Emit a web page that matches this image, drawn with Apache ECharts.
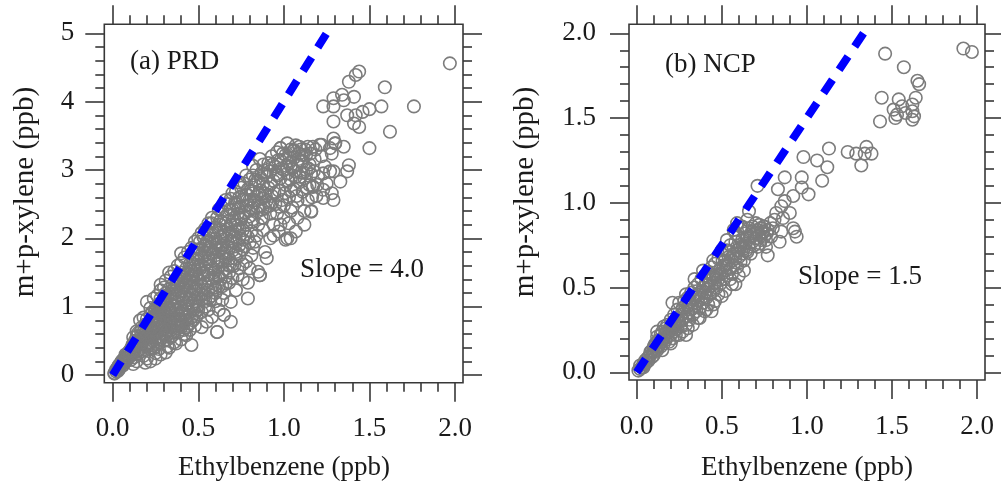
<!DOCTYPE html>
<html>
<head>
<meta charset="utf-8">
<script src="https://cdn.jsdelivr.net/npm/echarts@6/dist/echarts.min.js"></script>
<style>
html,body{margin:0;padding:0;background:#fff;}
#chart{width:1001px;height:488px;}
</style>
</head>
<body>
<div id="chart"></div>
<script>
// ---------- DATA ----------
const xTickLabels = ['0.0', '0.5', '1.0', '1.5', '2.0'];
const prdYTickLabels = ['0', '1', '2', '3', '4', '5'];
const ncpYTickLabels = ['0.0', '0.5', '1.0', '1.5', '2.0'];

const panelTitles = ['(a) PRD', '(b) NCP'];
const slopeTexts = ['Slope = 4.0', 'Slope = 1.5'];
const xAxisTitle = 'Ethylbenzene (ppb)';
const yAxisTitle = 'm+p-xylene (ppb)';

// dashed reference lines (start, end)
const prdSlopeLine = [[0, 0], [1.25, 5.0]];
const ncpSlopeLine = [[0, 0], [1.333, 2.0]];

// PRD scatter (ethylbenzene, m+p-xylene), ppb
const prdPoints = [
[0.01,0.03],[0.02,0.05],[0.02,0.08],[0.03,0.06],[0.03,0.11],[0.01,0.02],[0.04,0.12],[0.04,0.09],[0.05,0.15],[0.05,0.19],
[0.06,0.14],[0.06,0.22],[0.07,0.25],[0.07,0.18],[0.08,0.21],[0.08,0.29],[0.09,0.31],[0.09,0.24],[0.10,0.27],[0.10,0.36],
[0.11,0.40],[0.11,0.30],[0.12,0.33],[0.12,0.45],[0.13,0.38],[0.13,0.50],[0.14,0.42],[0.14,0.56],[0.15,0.36],[0.15,0.48],
[0.15,0.62],[0.16,0.52],[0.16,0.41],[0.17,0.58],[0.17,0.70],[0.17,0.45],[0.18,0.63],[0.18,0.50],[0.19,0.74],[0.19,0.55],
[0.19,0.44],[0.20,0.68],[0.20,0.82],[0.20,0.58],[0.21,0.62],[0.21,0.76],[0.21,0.48],[0.22,0.88],[0.22,0.70],[0.22,0.55],
[0.23,0.80],[0.23,0.64],[0.23,0.92],[0.24,0.74],[0.24,0.58],[0.24,0.86],[0.25,0.98],[0.25,0.68],[0.25,0.80],[0.26,0.90],
[0.26,0.62],[0.26,0.75],[0.27,1.04],[0.27,0.84],[0.27,0.70],[0.28,0.95],[0.28,0.78],[0.28,1.12],[0.29,0.66],[0.29,0.88],
[0.29,1.00],[0.30,1.08],[0.30,0.82],[0.30,0.95],[0.30,0.60],[0.31,1.20],[0.31,0.92],[0.31,0.74],[0.32,1.02],[0.32,0.86],
[0.32,1.14],[0.33,0.98],[0.33,1.26],[0.33,0.78],[0.34,1.08],[0.34,0.92],[0.34,0.66],[0.35,1.18],[0.35,1.32],[0.35,0.84],
[0.36,1.02],[0.36,1.12],[0.36,0.72],[0.37,1.24],[0.37,0.94],[0.37,1.40],[0.38,1.08],[0.38,1.30],[0.38,0.82],[0.39,1.16],
[0.39,1.00],[0.39,1.46],[0.40,1.22],[0.40,1.36],[0.40,0.90],[0.40,0.70],[0.41,1.10],[0.41,1.50],[0.41,1.28],[0.42,1.18],
[0.42,0.98],[0.42,1.42],[0.43,1.32],[0.43,1.56],[0.43,0.80],[0.44,1.24],[0.44,1.06],[0.44,1.48],[0.45,1.38],[0.45,1.62],
[0.45,0.92],[0.46,1.30],[0.46,1.16],[0.46,1.52],[0.46,0.44],[0.47,1.44],[0.47,1.70],[0.47,1.02],[0.48,1.36],[0.48,1.58],
[0.48,1.22],[0.49,1.76],[0.49,1.48],[0.49,0.86],[0.50,1.66],[0.50,1.40],[0.50,1.84],[0.50,1.12],
[0.16,0.80],[0.20,1.07],[0.24,1.12],[0.28,1.32],[0.31,1.38],[0.36,1.52],[0.40,1.64],[0.44,1.80],[0.48,1.95],[0.52,2.08],[0.56,2.22],
[0.18,0.28],[0.22,0.38],[0.26,0.45],[0.30,0.50],[0.34,0.55],[0.38,0.62],[0.25,0.32],[0.20,0.24],[0.14,0.20],[0.12,0.16],
[0.32,0.42],[0.42,0.60],[0.36,0.48],
[0.19,0.18],[0.22,0.20],[0.25,0.24],[0.28,0.30],[0.31,0.33],[0.27,0.38],[0.33,0.40],[0.37,0.46],[0.40,0.52],[0.43,0.58],
[0.45,0.66],[0.48,0.72],[0.52,0.70],[0.55,0.78],[0.58,0.85],[0.62,0.95],[0.61,0.63],[0.65,0.88],[0.69,0.78],[0.69,1.07],
[0.035,0.14],[0.045,0.17],[0.055,0.21],[0.065,0.18],[0.075,0.30],[0.085,0.25],[0.095,0.34],[0.105,0.31],[0.115,0.44],[0.125,0.38],
[0.135,0.46],[0.145,0.50],[0.155,0.44],[0.165,0.64],[0.175,0.54],[0.185,0.70],[0.195,0.62],[0.205,0.75],[0.215,0.66],[0.225,0.82],
[0.235,0.70],[0.245,0.92],[0.255,0.86],[0.265,0.96],[0.275,0.90],[0.285,1.04],[0.295,0.94],[0.305,1.14],[0.315,1.06],[0.325,0.96],
[0.335,1.18],[0.345,1.12],[0.355,1.26],[0.365,1.20],[0.375,1.34],[0.385,1.22],[0.395,1.40],[0.405,1.30],[0.415,1.44],[0.425,1.36],
[0.435,1.50],[0.445,1.42],[0.455,1.56],[0.465,1.46],[0.475,1.62],[0.485,1.52],[0.495,1.70],
[0.105,0.22],[0.125,0.26],[0.145,0.30],[0.165,0.34],[0.185,0.38],[0.205,0.42],[0.225,0.47],[0.245,0.52],[0.265,0.56],[0.285,0.60],
[0.305,0.68],[0.325,0.70],[0.345,0.76],[0.365,0.80],[0.385,0.88],[0.405,0.94],[0.425,1.02],[0.445,1.10],[0.465,1.18],[0.485,1.26],
[0.235,0.44],[0.275,0.52],[0.315,0.58],[0.355,0.62],[0.395,0.74],[0.435,0.86],[0.475,0.96],[0.415,0.66],[0.455,0.76],[0.495,1.00],
[0.12,0.55],[0.14,0.64],[0.18,0.84],[0.22,0.98],[0.26,1.16],[0.30,1.28],[0.34,1.44],[0.38,1.60],[0.42,1.72],[0.46,1.86],
[0.50,2.00],[0.54,2.14],[0.58,2.30],[0.62,2.42],[0.66,2.56],[0.70,2.66],[0.74,2.82],[0.78,2.92],[0.82,3.06],[0.86,3.16],
[0.40,1.78],[0.33,1.50],[0.28,1.24],
[0.30,0.72],[0.32,0.64],[0.34,0.80],[0.36,0.88],[0.38,0.72],[0.40,0.80],[0.42,0.88],[0.44,0.72],[0.44,0.96],[0.46,0.84],
[0.46,1.02],[0.48,0.90],[0.48,1.08],[0.50,1.02],[0.50,1.24],[0.52,0.92],[0.52,1.18],[0.54,1.08],[0.54,1.34],[0.56,1.12],
[0.56,1.46],[0.58,1.16],[0.58,1.40],[0.60,1.20],[0.60,1.54],[0.62,1.44],[0.62,1.68],[0.64,1.30],[0.64,1.78],[0.66,1.44],
[0.66,1.70],[0.68,1.50],[0.68,1.86],[0.70,1.62],[0.70,1.96],[0.72,1.80],[0.72,2.20],[0.74,1.90],[0.74,2.14],[0.76,1.98],
[0.24,0.40],[0.27,0.47],[0.29,0.54],[0.32,0.52],[0.35,0.58],[0.38,0.68],[0.41,0.76],[0.43,0.70],[0.47,0.80],[0.49,0.94],
[0.51,1.55],[0.51,1.95],[0.52,1.30],[0.52,1.72],[0.53,1.88],[0.53,1.48],[0.53,2.02],[0.54,1.62],[0.54,1.20],[0.54,1.80],
[0.55,1.95],[0.55,1.52],[0.55,2.12],[0.56,1.70],[0.56,1.38],[0.56,1.86],[0.57,2.05],[0.57,1.60],[0.57,1.10],[0.58,1.78],
[0.58,1.94],[0.58,2.22],[0.59,1.50],[0.59,1.68],[0.59,2.08],[0.60,1.86],[0.60,2.00],[0.60,1.28],[0.61,2.30],[0.61,1.72],
[0.61,1.95],[0.62,1.58],[0.62,2.12],[0.62,1.82],[0.63,2.02],[0.63,1.40],[0.63,2.26],[0.64,1.90],[0.64,1.66],[0.64,2.40],
[0.65,2.10],[0.65,1.78],[0.65,1.20],[0.66,2.00],[0.66,2.22],[0.66,1.55],[0.67,1.88],[0.67,2.35],[0.67,2.50],[0.68,2.08],
[0.68,1.70],[0.68,1.35],[0.69,2.20],[0.69,1.95],[0.69,2.58],[0.70,2.42],[0.70,1.82],[0.70,2.10],[0.71,1.60],[0.71,2.30],
[0.71,2.02],[0.72,2.50],[0.72,1.92],[0.72,2.68],[0.73,2.18],[0.73,1.46],[0.73,2.36],[0.74,2.60],[0.74,2.00],[0.74,1.75],
[0.75,2.28],[0.75,2.74],[0.75,2.46],[0.76,2.12],[0.76,1.62],[0.76,2.56],[0.77,2.38],[0.77,2.80],[0.77,1.88],[0.78,2.64],
[0.78,2.20],[0.78,2.48],[0.79,2.02],[0.79,2.72],[0.79,1.35],[0.80,2.32],[0.80,2.56],[0.80,2.86],[0.81,2.10],[0.81,2.44],
[0.81,1.75],[0.82,2.66],[0.82,2.92],[0.82,2.28],[0.83,2.52],[0.83,1.95],[0.83,2.78],[0.84,2.38],[0.84,3.00],[0.84,2.62],
[0.85,2.20],[0.85,1.51],[0.85,2.84],[0.86,2.48],[0.86,2.70],[0.86,1.46],[0.87,2.96],[0.87,2.30],[0.87,2.58],[0.88,2.80],
[0.88,3.08],[0.88,2.12],[0.89,2.44],[0.89,2.66],[0.89,1.80],[0.90,2.90],[0.90,1.71],[0.90,2.55],[0.79,1.12],
[0.505,1.78],[0.515,1.62],[0.525,1.42],[0.535,1.74],[0.545,1.90],[0.555,1.66],[0.565,1.96],[0.575,1.84],[0.585,1.56],[0.595,2.16],
[0.605,1.92],[0.615,1.64],[0.625,2.20],[0.635,1.86],[0.645,2.04],[0.655,2.30],[0.665,1.80],[0.675,2.14],[0.685,2.42],[0.695,2.04],
[0.705,2.26],[0.715,2.52],[0.725,2.10],[0.735,2.44],[0.745,2.30],[0.755,2.62],[0.765,2.34],[0.775,2.06],[0.785,2.56],[0.795,2.40],
[0.805,2.70],[0.815,2.24],[0.825,2.56],[0.835,2.86],[0.845,2.46],[0.855,2.66],[0.865,2.88],[0.875,2.42],[0.885,2.94],[0.895,2.62],
[0.52,1.10],[0.56,1.24],[0.60,1.42],[0.64,1.50],[0.68,1.60],[0.72,1.70],[0.76,1.84],[0.80,1.94],[0.84,2.04],[0.88,2.30],
[0.66,1.34],[0.70,1.42],[0.74,1.56],[0.78,1.66],[0.82,1.86],[0.62,1.30],[0.58,1.30],[0.54,1.00],[0.50,0.96],[0.56,0.96],
[0.60,1.08],[0.64,1.10],[0.72,1.24],[0.76,1.40],[0.80,1.56],
[0.91,2.74],[0.91,3.10],[0.92,2.36],[0.92,2.98],[0.93,2.62],[0.93,3.20],[0.94,2.84],[0.94,2.20],[0.95,3.05],[0.95,2.50],
[0.96,2.92],[0.96,3.26],[0.97,2.70],[0.97,2.10],[0.98,3.14],[0.98,2.88],[0.98,3.32],[0.99,2.56],[1.00,3.00],[1.00,2.30],
[1.01,3.22],[1.01,2.78],[1.02,2.95],[1.02,2.00],[1.03,3.10],[1.03,2.60],[1.04,3.30],[1.04,2.86],[1.05,2.45],[1.05,3.02],
[1.06,3.18],[1.06,2.72],[1.07,2.90],[1.07,3.36],[1.08,3.08],[1.08,2.55],[1.09,3.24],[1.09,2.82],[1.10,2.96],[1.10,3.30],
[1.11,2.68],[1.11,3.12],[1.12,2.40],[1.12,2.88],[1.13,3.22],[1.13,3.00],[1.14,2.56],[1.14,3.34],[1.15,2.78],[1.15,3.08],
[1.16,2.39],[1.16,2.94],[1.17,3.34],[1.17,2.76],[1.18,3.16],[1.19,2.62],[1.20,2.90],[1.21,3.37],[1.22,3.20],[1.23,2.95],
[1.23,2.71],[1.24,3.05],[1.25,2.80],[1.27,2.98],[1.28,3.24],[1.29,2.98],[1.29,2.56],[1.30,3.39],[1.28,2.66],[1.33,2.83],
[1.35,3.34],[1.37,2.98],[1.38,3.07],[1.04,2.00],[1.01,1.98],[0.92,2.00],
[0.905,3.00],[0.915,2.52],[0.925,2.80],[0.935,3.08],[0.945,2.66],[0.955,2.94],[0.965,3.14],[0.975,2.46],[0.985,3.02],[0.995,3.24],
[1.005,2.66],[1.015,3.06],[1.025,2.84],[1.035,3.18],[1.045,2.70],[1.055,3.28],[1.065,2.98],[1.075,2.62],[1.085,3.16],[1.095,2.90],
[1.105,3.22],[1.115,2.96],[1.125,3.30],[1.135,2.74],[1.145,3.02],[1.155,3.24],[1.165,2.60],[1.175,2.98],[1.185,3.30],[1.195,2.78],
[0.92,2.48],[0.96,2.36],[1.00,2.48],[1.04,2.40],[1.08,2.30],[1.12,2.20],[0.98,2.20],[0.94,2.04],[1.03,2.22],[1.07,2.10],
[1.97,4.56],[1.76,3.93],[1.62,3.56],[1.59,4.21],[1.57,3.93],[1.50,3.32],[1.50,3.89],[1.46,3.85],[1.44,4.44],[1.42,4.39],
[1.38,4.29],[1.42,3.80],[1.44,3.63],[1.41,3.68],[1.41,4.07],[1.37,3.80],[1.35,4.02],[1.34,4.10],[1.29,4.05],[1.23,3.93],
[1.29,3.93],[1.29,3.71],[1.29,3.46],[1.30,3.39],[1.27,3.32],[1.22,3.37],[1.17,2.75],[1.23,2.59],[1.16,2.40],
[1.06,3.29],[1.09,3.34],[1.02,3.39],[0.98,3.32],[1.04,3.05],[1.10,3.12],[0.65,0.88],[0.61,0.63],[0.86,1.46]
];

// NCP scatter (ethylbenzene, m+p-xylene), ppb
const ncpPoints = [
[0.01,0.01],[0.02,0.02],[0.02,0.04],[0.03,0.03],[0.04,0.05],[0.04,0.03],[0.05,0.07],[0.05,0.05],[0.06,0.08],[0.06,0.06],
[0.07,0.09],[0.07,0.07],[0.08,0.10],[0.08,0.12],[0.09,0.09],[0.09,0.13],[0.10,0.12],[0.10,0.15],[0.10,0.10],[0.11,0.14],
[0.11,0.17],[0.12,0.13],[0.12,0.18],[0.12,0.21],[0.13,0.16],[0.13,0.19],[0.14,0.15],[0.14,0.22],[0.15,0.18],[0.15,0.24],
[0.15,0.13],[0.16,0.20],[0.16,0.17],[0.17,0.23],[0.17,0.26],[0.17,0.19],[0.18,0.21],[0.18,0.28],[0.19,0.24],[0.19,0.18],
[0.20,0.27],[0.20,0.22],[0.20,0.31],[0.21,0.25],[0.21,0.20],[0.22,0.30],[0.22,0.34],[0.22,0.24],[0.23,0.28],[0.23,0.22],
[0.24,0.32],[0.24,0.26],[0.24,0.37],[0.25,0.30],[0.25,0.41],[0.26,0.34],[0.26,0.27],[0.27,0.38],[0.27,0.31],[0.27,0.24],
[0.28,0.36],[0.28,0.42],[0.29,0.33],[0.29,0.28],[0.30,0.39],[0.30,0.44],[0.30,0.35],[0.31,0.31],[0.31,0.41],[0.32,0.37],
[0.32,0.47],[0.33,0.43],[0.33,0.34],[0.34,0.39],[0.34,0.50],[0.35,0.45],[0.35,0.36],[0.36,0.42],[0.36,0.52],[0.37,0.47],
[0.37,0.38],[0.38,0.44],[0.38,0.55],[0.39,0.50],[0.39,0.41],[0.40,0.47],[0.40,0.57],[0.40,0.36],[0.41,0.52],[0.41,0.44],
[0.42,0.49],[0.42,0.59],[0.43,0.54],[0.43,0.46],[0.44,0.51],[0.44,0.62],[0.45,0.57],[0.45,0.48],[0.45,0.40],[0.46,0.53],
[0.46,0.64],[0.47,0.58],[0.47,0.50],[0.48,0.55],[0.48,0.67],[0.49,0.61],[0.49,0.52],[0.50,0.58],[0.50,0.70],[0.50,0.45],
[0.51,0.63],[0.51,0.55],[0.52,0.66],[0.52,0.60],[0.53,0.72],[0.53,0.57],[0.54,0.64],[0.54,0.68],[0.55,0.61],[0.55,0.75],
[0.56,0.66],[0.56,0.58],[0.57,0.70],[0.57,0.63],[0.58,0.77],[0.58,0.67],[0.59,0.62],[0.59,0.72],[0.60,0.68],[0.60,0.80],
[0.61,0.74],[0.61,0.65],[0.62,0.70],[0.62,0.78],[0.63,0.73],[0.63,0.66],[0.64,0.76],[0.64,0.82],[0.65,0.71],[0.65,0.79],
[0.66,0.74],[0.66,0.85],[0.67,0.80],[0.67,0.70],[0.68,0.77],[0.68,0.86],[0.69,0.82],[0.69,0.75],[0.70,0.79],[0.70,0.88],
[0.71,0.84],[0.71,0.74],[0.72,0.81],[0.72,0.87],[0.73,0.78],[0.73,0.85],[0.74,0.83],[0.75,0.80],[0.75,0.86],[0.76,0.78],
[0.77,0.84],
[0.12,0.24],[0.16,0.27],[0.21,0.41],[0.29,0.46],[0.34,0.55],[0.39,0.60],[0.45,0.66],[0.50,0.72],[0.53,0.78],
[0.29,0.22],[0.33,0.28],[0.37,0.32],[0.41,0.37],[0.46,0.42],[0.52,0.48],[0.56,0.52],[0.60,0.57],[0.63,0.60],[0.58,0.52],[0.44,0.36],
[0.105,0.16],[0.125,0.15],[0.145,0.19],[0.165,0.22],[0.185,0.25],[0.205,0.26],[0.225,0.27],[0.245,0.29],[0.265,0.31],[0.285,0.39],
[0.305,0.41],[0.325,0.40],[0.345,0.44],[0.365,0.46],[0.385,0.48],[0.405,0.52],[0.425,0.52],[0.445,0.56],[0.465,0.56],[0.485,0.58],
[0.505,0.66],[0.525,0.63],[0.545,0.71],[0.565,0.68],[0.585,0.70],[0.605,0.75],[0.625,0.74],[0.645,0.72],[0.665,0.80],[0.685,0.83],
[0.705,0.82],[0.725,0.76],[0.745,0.86],[0.765,0.82],[0.785,0.88],[0.80,0.85],[0.79,0.80],[0.62,0.86],[0.58,0.82],[0.55,0.55],
[0.48,0.46],[0.42,0.40],[0.36,0.32],[0.30,0.26],[0.25,0.22],[0.20,0.17],[0.57,0.84],[0.61,0.86],[0.65,0.90],
[1.92,1.91],[1.97,1.89],[1.46,1.88],[1.57,1.80],[1.65,1.72],[1.66,1.70],[1.44,1.62],[1.54,1.61],[1.64,1.62],[1.62,1.58],
[1.51,1.55],[1.56,1.57],[1.53,1.52],[1.58,1.53],[1.62,1.54],[1.63,1.51],[1.62,1.49],[1.52,1.50],[1.43,1.48],
[1.35,1.33],[1.38,1.29],[1.34,1.29],[1.29,1.29],[1.24,1.30],[1.32,1.22],[1.13,1.32],[1.06,1.25],[1.12,1.21],[1.09,1.13],
[0.98,1.27],[0.97,1.15],[1.01,1.05],[0.97,1.09],[0.92,1.04],[0.87,1.15],[0.83,1.08],[0.87,1.01],[0.85,0.98],[0.82,0.94],
[0.81,0.90],[0.90,0.94],[0.86,0.91],[0.92,0.85],[0.94,0.80],[0.93,0.83],[0.85,0.83],[0.84,0.77],[0.77,0.69],[0.76,0.74],
[0.74,0.82],[0.66,0.95],[0.71,1.10],[0.59,0.88]
];

// ---------- CHART ----------
const FONT = 'Liberation Serif';
const INK = '#1a1a1a';
const AX = '#383838';

function tickAxisX(gridIndex, position, offset, labels) {
  return {
    type: 'value', gridIndex: gridIndex, position: position, offset: offset,
    min: 0, max: 2, interval: 0.5,
    axisLine: { show: false, onZero: false },
    axisTick: { show: true, length: 19, lineStyle: { color: AX, width: 1.6 } },
    minorTick: { show: true, splitNumber: 5, length: 9, lineStyle: { color: AX, width: 1.6 } },
    splitLine: { show: false }, minorSplitLine: { show: false },
    axisLabel: labels ? {
      show: true, margin: 33, fontFamily: FONT, fontSize: 27, color: INK,
      formatter: function (v) { return labels[Math.round(v / 0.5)]; }
    } : { show: false }
  };
}
function tickAxisY(gridIndex, position, offset, max, interval, labels, margin) {
  return {
    type: 'value', gridIndex: gridIndex, position: position, offset: offset,
    min: 0, max: max, interval: interval,
    axisLine: { show: false, onZero: false },
    axisTick: { show: true, length: 19, lineStyle: { color: AX, width: 1.6 } },
    minorTick: { show: true, splitNumber: 5, length: 9, lineStyle: { color: AX, width: 1.6 } },
    splitLine: { show: false }, minorSplitLine: { show: false },
    axisLabel: labels ? {
      show: true, margin: margin, fontFamily: FONT, fontSize: 27, color: INK,
      formatter: function (v) { return labels[Math.round(v / interval)]; }
    } : { show: false }
  };
}
function hiddenAxis(gridIndex) {
  return { type: 'value', gridIndex: gridIndex, show: false, min: 0, max: 1, splitLine: { show: false } };
}

function txt(text, x, y, size, align, rot) {
  return {
    type: 'text', x: x, y: y, rotation: rot || 0, silent: true,
    style: {
      text: text, fill: INK, font: size + 'px "' + FONT + '"',
      fontFamily: FONT, fontSize: size,
      align: align, verticalAlign: 'middle',
      textAlign: align, textVerticalAlign: 'middle'
    }
  };
}

const scatterStyle = { color: 'rgba(0,0,0,0)', borderColor: '#7c7c7c', borderWidth: 1.6, opacity: 1 };

const option = {
  animation: false,
  backgroundColor: '#ffffff',
  grid: [
    { left: 104.3, top: 24.3, width: 358.7, height: 358.4, show: true, borderColor: AX, borderWidth: 1.6, backgroundColor: 'transparent', containLabel: false },
    { left: 112.7, top: 33.3, width: 342.3, height: 341.7, containLabel: false },
    { left: 629, top: 24.3, width: 356, height: 355.7, show: true, borderColor: AX, borderWidth: 1.6, backgroundColor: 'transparent', containLabel: false },
    { left: 636.7, top: 33.3, width: 340.3, height: 339, containLabel: false }
  ],
  xAxis: [
    tickAxisX(1, 'bottom', 7.7, xTickLabels),   // 0
    tickAxisX(1, 'top', 9, null),               // 1
    tickAxisX(3, 'bottom', 7.7, xTickLabels),   // 2
    tickAxisX(3, 'top', 9, null),               // 3
    hiddenAxis(0),                              // 4
    hiddenAxis(2)                               // 5
  ],
  yAxis: [
    tickAxisY(1, 'left', 8.4, 5, 1, prdYTickLabels, 30),    // 0
    tickAxisY(1, 'right', 8, 5, 1, null, 0),                // 1
    tickAxisY(3, 'left', 7.7, 2, 0.5, ncpYTickLabels, 33),  // 2
    tickAxisY(3, 'right', 8, 2, 0.5, null, 0),              // 3
    hiddenAxis(0),                                          // 4
    hiddenAxis(2)                                           // 5
  ],
  series: [
    {
      type: 'scatter', xAxisIndex: 0, yAxisIndex: 0, data: prdPoints, clip: false,
      symbol: 'circle', symbolSize: 12.5, silent: true, itemStyle: scatterStyle
    },
    {
      type: 'line', xAxisIndex: 0, yAxisIndex: 0, data: prdSlopeLine, clip: false,
      showSymbol: false, symbol: 'none', silent: true,
      lineStyle: { color: '#0000ff', width: 8, type: [16, 11.6], cap: 'butt' }
    },
    {
      type: 'scatter', xAxisIndex: 2, yAxisIndex: 2, data: ncpPoints, clip: false,
      symbol: 'circle', symbolSize: 12.5, silent: true, itemStyle: scatterStyle
    },
    {
      type: 'line', xAxisIndex: 2, yAxisIndex: 2, data: ncpSlopeLine, clip: false,
      showSymbol: false, symbol: 'none', silent: true,
      lineStyle: { color: '#0000ff', width: 8, type: [16, 12], cap: 'butt' }
    }
  ],
  graphic: [
    txt(panelTitles[0], 130, 62, 27, 'left'),
    txt(slopeTexts[0], 300, 270, 27, 'left'),
    txt(panelTitles[1], 665, 65, 27, 'left'),
    txt(slopeTexts[1], 798, 277, 27, 'left'),
    txt(xAxisTitle, 284, 468, 27, 'center'),
    txt(xAxisTitle, 807, 468, 27, 'center'),
    txt(yAxisTitle, 25, 192, 29, 'center', Math.PI / 2),
    txt(yAxisTitle, 525, 192, 29, 'center', Math.PI / 2)
  ]
};

const chart = echarts.init(document.getElementById('chart'), null, { renderer: 'canvas', width: 1001, height: 488 });
chart.setOption(option);
</script>
</body>
</html>
